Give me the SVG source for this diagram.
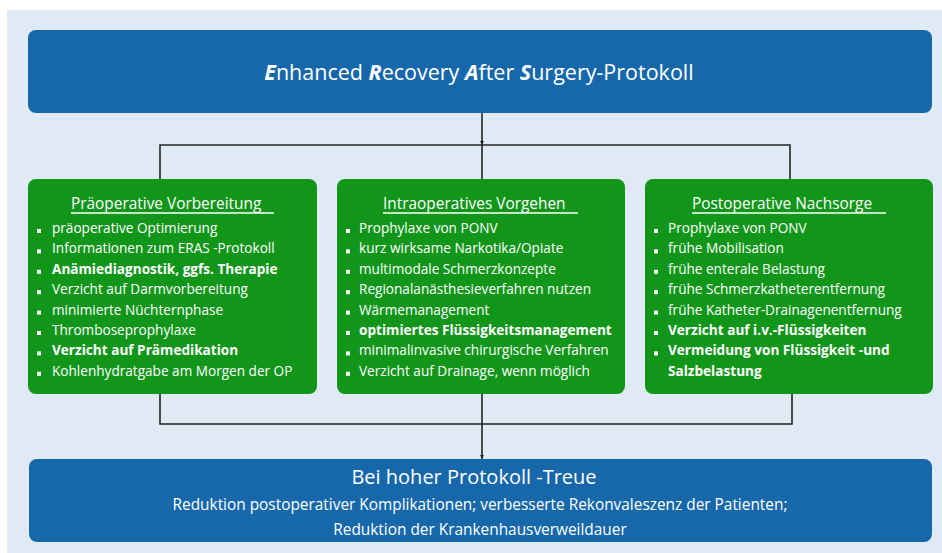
<svg xmlns="http://www.w3.org/2000/svg" width="942" height="553" viewBox="0 0 942 553">
<defs>
<style>
.bg{fill:#e0eaf4}
.blue{fill:#1768ab}
.green{fill:#11961a}
text{font-family:"Open Sans","DejaVu Sans",sans-serif;fill:#ffffff}
.title{font-size:21.5px}
.bi{font-weight:bold;font-style:italic}
.head{font-size:15.4px}
.item{font-size:13.6px}
.b{font-weight:bold}
.sub{font-size:15.4px}
.big{font-size:20px}
.ul{stroke:#ffffff;stroke-width:1.5}
.bul{fill:#ffffff}
.conn{stroke:#222222;stroke-width:1.6;fill:none}
</style>
<marker id="ah" viewBox="0 0 10 10" refX="10" refY="5" markerWidth="4" markerHeight="4" orient="auto" markerUnits="userSpaceOnUse">
<path d="M0,0 L10,5 L0,10 z" fill="#222222"/>
</marker>
</defs>
<rect class="bg" x="7" y="10" width="935" height="543"/>

<g id="connectors">
<line class="conn" x1="482" y1="113" x2="482" y2="145" marker-end="url(#ah)"/>
<polyline class="conn" points="160,179 160,145 790,145 790,179"/>
<line class="conn" x1="482" y1="145" x2="482" y2="179"/>
<polyline class="conn" points="160,393 160,424 792,424 792,393"/>
<line class="conn" x1="482" y1="393" x2="482" y2="424"/>
<line class="conn" x1="482" y1="424" x2="482" y2="459" marker-end="url(#ah)"/>
</g>

<g id="top">
<rect class="blue" x="28" y="30" width="904" height="83" rx="8"/>
<text class="title" x="479" y="80" text-anchor="middle"><tspan class="bi">E</tspan>nhanced <tspan class="bi">R</tspan>ecovery <tspan class="bi">A</tspan>fter <tspan class="bi">S</tspan>urgery-Protokoll</text>
</g>

<g id="pre">
<rect class="green" x="28" y="179" width="289" height="215" rx="8"/>
<text class="head" x="71" y="209">Präoperative Vorbereitung</text>
<line class="ul" x1="71" y1="213" x2="274" y2="213"/>
<rect class="bul" x="37" y="229" width="4" height="4"/><text class="item" x="52" y="233">präoperative Optimierung</text>
<rect class="bul" x="37" y="249.4" width="4" height="4"/><text class="item" x="52" y="253.4">Informationen zum ERAS -Protokoll</text>
<rect class="bul" x="37" y="269.8" width="4" height="4"/><text class="item b" x="52" y="273.8">Anämiediagnostik, ggfs. Therapie</text>
<rect class="bul" x="37" y="290.2" width="4" height="4"/><text class="item" x="52" y="294.2">Verzicht auf Darmvorbereitung</text>
<rect class="bul" x="37" y="310.6" width="4" height="4"/><text class="item" x="52" y="314.6">minimierte Nüchternphase</text>
<rect class="bul" x="37" y="331" width="4" height="4"/><text class="item" x="52" y="335">Thromboseprophylaxe</text>
<rect class="bul" x="37" y="351.4" width="4" height="4"/><text class="item b" x="52" y="355.4">Verzicht auf Prämedikation</text>
<rect class="bul" x="37" y="371.8" width="4" height="4"/><text class="item" x="52" y="375.8">Kohlenhydratgabe am Morgen der OP</text>
</g>

<g id="intra">
<rect class="green" x="337" y="179" width="288" height="215" rx="8"/>
<text class="head" x="383" y="209">Intraoperatives Vorgehen</text>
<line class="ul" x1="383" y1="213" x2="578" y2="213"/>
<rect class="bul" x="346" y="229" width="4" height="4"/><text class="item" x="359" y="233">Prophylaxe von PONV</text>
<rect class="bul" x="346" y="249.4" width="4" height="4"/><text class="item" x="359" y="253.4">kurz wirksame Narkotika/Opiate</text>
<rect class="bul" x="346" y="269.8" width="4" height="4"/><text class="item" x="359" y="273.8">multimodale Schmerzkonzepte</text>
<rect class="bul" x="346" y="290.2" width="4" height="4"/><text class="item" x="359" y="294.2">Regionalanästhesieverfahren nutzen</text>
<rect class="bul" x="346" y="310.6" width="4" height="4"/><text class="item" x="359" y="314.6">Wärmemanagement</text>
<rect class="bul" x="346" y="331" width="4" height="4"/><text class="item b" x="359" y="335">optimiertes Flüssigkeitsmanagement</text>
<rect class="bul" x="346" y="351.4" width="4" height="4"/><text class="item" x="359" y="355.4">minimalinvasive chirurgische Verfahren</text>
<rect class="bul" x="346" y="371.8" width="4" height="4"/><text class="item" x="359" y="375.8">Verzicht auf Drainage, wenn möglich</text>
</g>

<g id="post">
<rect class="green" x="645" y="179" width="288" height="215" rx="8"/>
<text class="head" x="692" y="209">Postoperative Nachsorge</text>
<line class="ul" x1="692" y1="213" x2="886" y2="213"/>
<rect class="bul" x="654" y="229" width="4" height="4"/><text class="item" x="668" y="233">Prophylaxe von PONV</text>
<rect class="bul" x="654" y="249.4" width="4" height="4"/><text class="item" x="668" y="253.4">frühe Mobilisation</text>
<rect class="bul" x="654" y="269.8" width="4" height="4"/><text class="item" x="668" y="273.8">frühe enterale Belastung</text>
<rect class="bul" x="654" y="290.2" width="4" height="4"/><text class="item" x="668" y="294.2">frühe Schmerzkatheterentfernung</text>
<rect class="bul" x="654" y="310.6" width="4" height="4"/><text class="item" x="668" y="314.6">frühe Katheter-Drainagenentfernung</text>
<rect class="bul" x="654" y="331" width="4" height="4"/><text class="item b" x="668" y="335">Verzicht auf i.v.-Flüssigkeiten</text>
<rect class="bul" x="654" y="351.4" width="4" height="4"/><text class="item b" x="668" y="355.4">Vermeidung von Flüssigkeit  -und</text>
<text class="item b" x="668" y="375.8">Salzbelastung</text>
</g>

<g id="bottom">
<rect class="blue" x="29" y="459" width="903" height="83" rx="8"/>
<text class="big" x="474" y="484" text-anchor="middle">Bei hoher Protokoll -Treue</text>
<text class="sub" x="480" y="510" text-anchor="middle">Reduktion postoperativer Komplikationen; verbesserte Rekonvaleszenz der Patienten;</text>
<text class="sub" x="480" y="535" text-anchor="middle">Reduktion der Krankenhausverweildauer</text>
</g>
</svg>
